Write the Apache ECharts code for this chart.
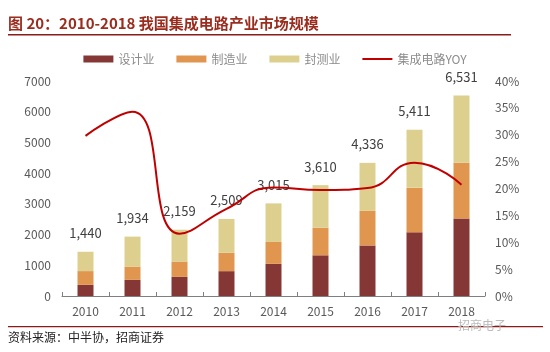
<!DOCTYPE html>
<html><head><meta charset="utf-8">
<script src="https://cdn.jsdelivr.net/npm/echarts@6/dist/echarts.min.js"></script>
<style>html,body{margin:0;padding:0;background:#fff}#c{width:550px;height:352px}</style>
</head><body><div id="c"></div>
<script>
const years = ['2010','2011','2012','2013','2014','2015','2016','2017','2018'];
const design = [363.9, 526.4, 621.7, 808.8, 1047.4, 1325.0, 1644.3, 2073.5, 2519.3];
const manufacturing = [447.1, 431.6, 501.1, 600.9, 712.1, 900.8, 1126.9, 1448.1, 1818.2];
const packaging = [629.2, 975.7, 1035.7, 1098.8, 1255.9, 1384.0, 1564.3, 1889.7, 2193.9];
const totals = [1440, 1934, 2159, 2509, 3015, 3610, 4336, 5411, 6531];
const yoy = [29.8, 34.3, 11.6, 16.2, 20.2, 19.7, 20.1, 24.8, 20.7];
const leftTicks = [0, 7000, 1000];
const rightTicks = [0, 40, 5];

const chart = echarts.init(document.getElementById('c'));
const font = '"Microsoft YaHei","Noto Sans CJK SC",sans-serif';
chart.setOption({
  animation: false,
  textStyle: {fontFamily: font},
  grid: {left: 62, right: 65, top: 81, bottom: 56},
  legend: {
    top: 48, left: 'center', itemGap: 22, itemWidth: 30, itemHeight: 7,
    textStyle: {color: '#8c8c8c', fontSize: 12, fontFamily: font},
    data: [
      {name: '设计业', icon: 'rect'},
      {name: '制造业', icon: 'rect'},
      {name: '封测业', icon: 'rect'},
      {name: '集成电路YOY', icon: 'path://M0,0 L30,0 L30,2 L0,2 Z', itemStyle: {color: '#C00000'}}
    ]
  },
  xAxis: {
    type: 'category', data: years,
    axisLine: {lineStyle: {color: '#7f7f7f'}},
    axisTick: {show: true, inside: true, length: 4, lineStyle: {color: '#7f7f7f'}},
    axisLabel: {color: '#595959', fontSize: 12, margin: 9}
  },
  yAxis: [
    {type: 'value', min: leftTicks[0], max: leftTicks[1], interval: leftTicks[2],
     axisLine: {show: false}, axisTick: {show: false}, splitLine: {show: false},
     axisLabel: {color: '#595959', fontSize: 12, margin: 11, formatter: v => String(v)}},
    {type: 'value', min: rightTicks[0], max: rightTicks[1], interval: rightTicks[2],
     axisLine: {show: false}, axisTick: {show: false}, splitLine: {show: false},
     axisLabel: {color: '#595959', fontSize: 12, margin: 10, formatter: '{value}%'}}
  ],
  series: [
    {name: '设计业', type: 'bar', stack: 't', data: design, barWidth: 16, itemStyle: {color: '#843734'}},
    {name: '制造业', type: 'bar', stack: 't', data: manufacturing, itemStyle: {color: '#E0964F'}},
    {name: '封测业', type: 'bar', stack: 't', data: packaging, itemStyle: {color: '#DDD08F'},
     label: {show: true, position: 'top', distance: 12, color: '#404040', fontSize: 13,
       formatter: p => totals[p.dataIndex].toLocaleString('en-US')}},
    {name: '集成电路YOY', type: 'line', yAxisIndex: 1, data: yoy, smooth: 0.5, symbol: 'none',
     lineStyle: {color: '#C00000', width: 2}, itemStyle: {color: '#C00000'}}
  ],
  graphic: [
    {type: 'text', left: 8, top: 16, style: {text: '图 20：2010-2018 我国集成电路产业市场规模', fill: '#9B2D1F', font: 'bold 15px ' + font}},
    {type: 'rect', shape: {x: 8, y: 34, width: 503, height: 1.5}, style: {fill: '#8B1A1A'}},
    {type: 'rect', shape: {x: 8, y: 326, width: 535, height: 1.2}, style: {fill: '#8B1A1A'}},
    {type: 'text', left: 8, top: 331, style: {text: '资料来源：中半协，招商证券', fill: '#222', font: '12px ' + font}},
    {type: 'text', left: 458, top: 319, style: {text: '招商电子', fill: '#bbbbbb', font: '12px ' + font}}
  ]
});
</script></body></html>
